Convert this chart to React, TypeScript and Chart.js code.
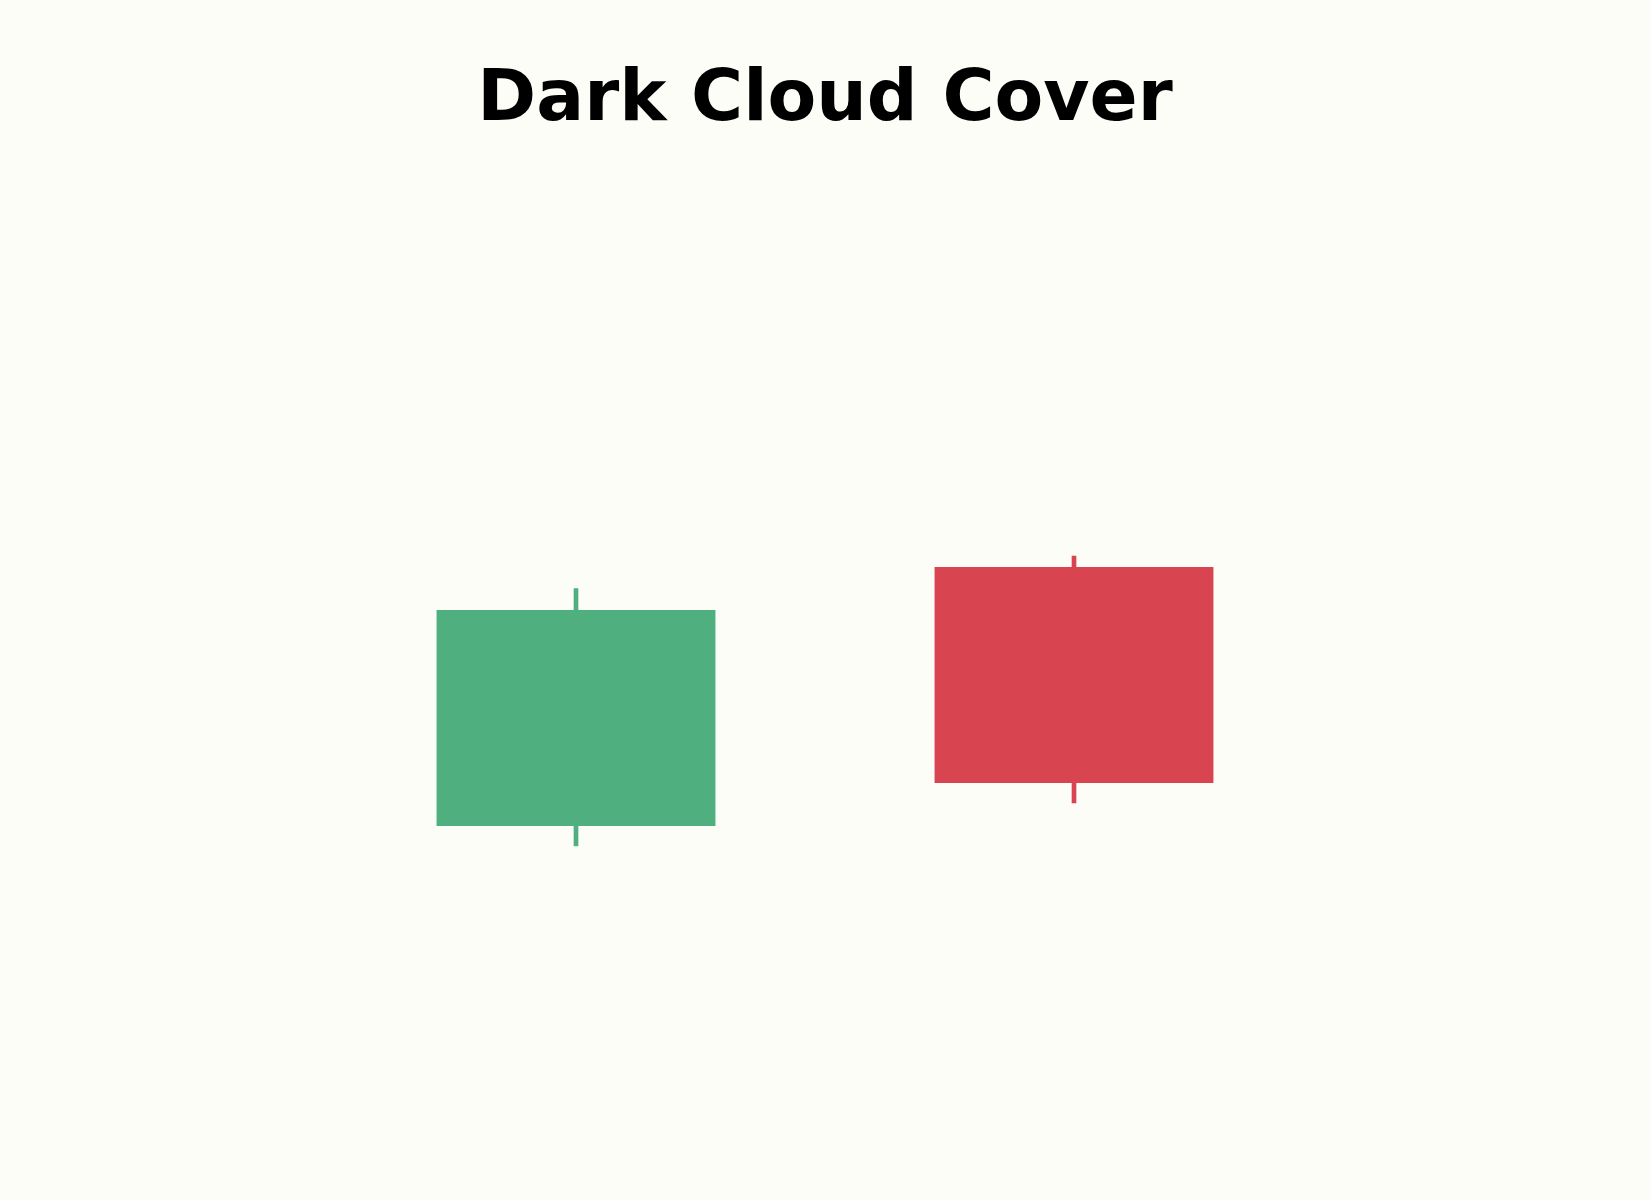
import { useEffect, useRef } from 'react'
import { Chart, registerables } from 'chart.js'
Chart.register(...registerables)

// two sessions of the pattern: a rising candle, then a gap up that closes deep into it
const sessions = ['Day 1', 'Day 2']
const opens = [100, 104.8]
const closes = [104, 100.8]
const highs = [104.4, 105]
const lows = [99.63, 100.43]

const UP = '#4faf7f'
const DOWN = '#d84551'
const BG = '#fdfdf8'

export default function App() {
  const ref = useRef<HTMLCanvasElement>(null)
  const inst = useRef<Chart | null>(null)

  useEffect(() => {
    if (!ref.current) return
    inst.current?.destroy()
    const colors = opens.map((o, i) => (closes[i] >= o ? UP : DOWN))
    inst.current = new Chart(ref.current, {
      type: 'bar',
      data: {
        labels: sessions,
        datasets: [
          {
            label: 'Body',
            data: opens.map((o, i) => [o, closes[i]]),
            backgroundColor: colors,
            borderWidth: 0,
            barPercentage: 0.56,
            categoryPercentage: 1,
            grouped: false,
          },
          {
            label: 'Wick',
            data: lows.map((l, i) => [l, highs[i]]),
            backgroundColor: colors,
            borderWidth: 0,
            barThickness: 4,
            grouped: false,
          },
        ],
      },
      options: {
        responsive: true, maintainAspectRatio: false, animation: false,
        layout: { padding: { left: 327, right: 327, top: 0, bottom: 104 } },
        plugins: {
          legend: { display: false },
          tooltip: { enabled: false },
          title: {
            display: true,
            text: 'Dark Cloud Cover',
            color: '#000',
            font: { family: 'DejaVu Sans', size: 71, weight: 'bold', lineHeight: 1.2 },
            padding: { top: 59, bottom: 142 },
          },
        },
        scales: {
          x: { display: false, offset: true },
          y: { display: false, min: 95, max: 110 },
        },
      },
    })
    return () => { inst.current?.destroy() }
  }, [])

  return (
    <div style={{ position: 'fixed', left: 0, top: 0, width: 1650, height: 1200, background: BG }}>
      <canvas ref={ref} />
    </div>
  )
}
